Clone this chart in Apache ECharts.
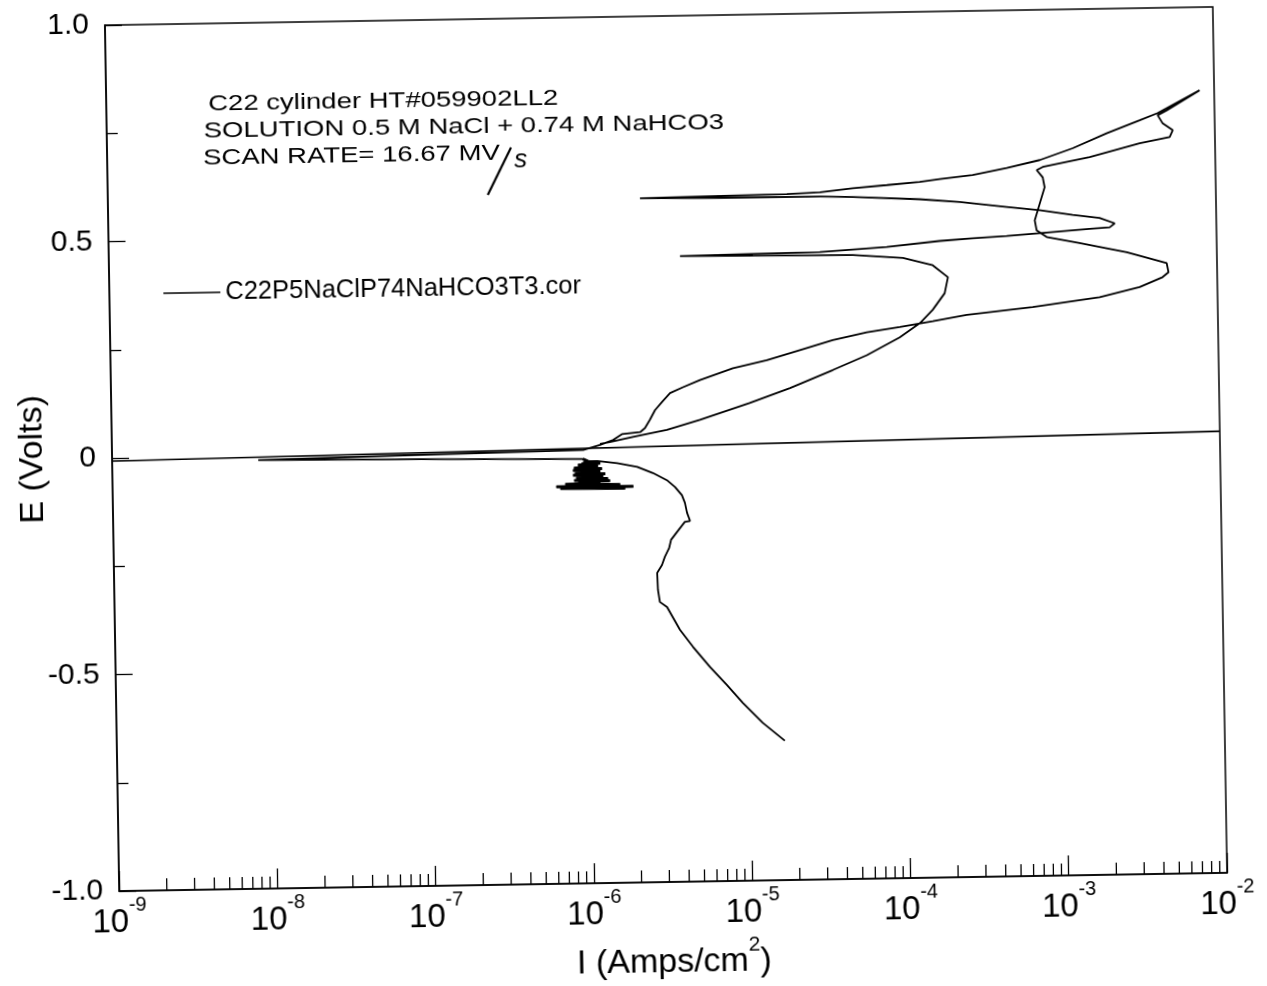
<!DOCTYPE html>
<html><head><meta charset="utf-8">
<script src="https://cdn.jsdelivr.net/npm/echarts@6/dist/echarts.min.js"></script>
<style>
html,body{margin:0;padding:0;background:#fff;overflow:hidden;}
#chart{width:1267px;height:986px;transform-origin:666px 449px;transform:rotate(-0.945deg);}
</style></head><body><div id="chart"></div>
<script>
const seriesName = 'C22P5NaClP74NaHCO3T3.cor';
const annotationLines = ['C22 cylinder HT#059902LL2', 'SOLUTION 0.5 M NaCl + 0.74 M NaHCO3', 'SCAN RATE= 16.67 MV'];
const yTickLabels = {'1': '1.0', '0.5': '0.5', '0': '0', '-0.5': '-0.5', '-1': '-1.0'};
const minorDecades = [1e-9, 1e-8, 1e-7, 1e-6, 1e-5, 1e-4, 1e-3];
const minorMultipliers = [2, 3, 4, 5, 6, 7, 8, 9];

// Cathodic branch (forward scan from -0.68 V)
const cathodicI = [1.66e-5,1.21e-5,9.10e-6,7.24e-6,5.69e-6,4.47e-6,3.71e-6,3.09e-6,2.79e-6,2.72e-6,2.70e-6,2.90e-6,3.03e-6,3.23e-6,3.33e-6,3.64e-6,4.09e-6,4.41e-6,4.23e-6,4.11e-6,3.94e-6,3.57e-6,3.18e-6,2.60e-6,2.07e-6,1.55e-6,1.16e-6];
const cathodicE = [-0.678,-0.636,-0.589,-0.547,-0.505,-0.458,-0.418,-0.365,-0.353,-0.325,-0.286,-0.268,-0.249,-0.229,-0.210,-0.192,-0.169,-0.167,-0.148,-0.125,-0.107,-0.088,-0.072,-0.055,-0.040,-0.031,-0.025];
// Noisy region near the corrosion potential
const noiseI = [9.69e-7,1.21e-6,8.76e-7,1.17e-6,8.26e-7,1.24e-6,8.14e-7,1.21e-6,8.38e-7,1.30e-6,8.14e-7,1.26e-6,8.51e-7,1.35e-6,8.26e-7,1.39e-6,8.76e-7,1.21e-6,7.25e-7,1.61e-6,6.36e-7,1.95e-6,6.74e-7,1.73e-6,9.02e-7,1.50e-6,9.42e-7,1.17e-6,9.02e-7,1.07e-6,9.15e-7,1.04e-6,9.28e-7,1.01e-6,9.42e-7];
const noiseE = [-0.025,-0.030,-0.034,-0.036,-0.041,-0.043,-0.046,-0.048,-0.053,-0.055,-0.057,-0.059,-0.064,-0.066,-0.069,-0.071,-0.073,-0.076,-0.078,-0.080,-0.083,-0.085,-0.087,-0.089,-0.087,-0.085,-0.080,-0.078,-0.069,-0.059,-0.050,-0.041,-0.032,-0.025,-0.020];
// Current minimum at corrosion potential
const dipI = [8.83e-8,8.38e-9,8.85e-8,9.48e-7];
const dipE = [-0.014,-0.010,-0.004,0.001];
// Anodic forward scan up to vertex
const forwardI = [1.21e-6,1.47e-6,1.67e-6,2.18e-6,2.34e-6,2.52e-6,2.72e-6,3.02e-6,3.40e-6,4.11e-6,5.27e-6,8.53e-6,1.40e-5,2.27e-5,3.67e-5,6.04e-5,9.77e-5,1.58e-4,2.59e-4,6.78e-4,1.80e-3,3.23e-3,4.52e-3,4.93e-3,4.81e-3,2.70e-3,1.36e-3,8.45e-4,7.31e-4,7.13e-4,7.71e-4,8.30e-4,8.09e-4,7.43e-4,8.11e-4,1.61e-3,3.34e-3,5.18e-3,5.42e-3,4.69e-3,4.37e-3,4.99e-3,8.09e-3];
const forwardE = [0.012,0.023,0.036,0.040,0.049,0.068,0.090,0.109,0.129,0.142,0.158,0.184,0.201,0.223,0.245,0.262,0.273,0.285,0.298,0.314,0.334,0.356,0.378,0.389,0.410,0.437,0.460,0.475,0.491,0.514,0.553,0.590,0.613,0.630,0.637,0.658,0.688,0.701,0.717,0.733,0.752,0.763,0.808];
// Reverse scan
const reverseI = [4.37e-3,3.36e-3,2.07e-3,1.26e-3,7.78e-4,4.81e-4,2.92e-4,1.81e-4,1.35e-4,8.38e-5,5.09e-5,3.16e-5,1.95e-5,7.36e-6,2.30e-6,7.36e-6,3.16e-5,5.09e-5,1.35e-4,2.41e-4,4.76e-4,7.67e-4,1.24e-3,1.83e-3,2.28e-3,2.12e-3,1.58e-3,7.64e-4,4.73e-4,2.88e-4,1.78e-4,8.24e-5,3.11e-5,1.17e-5,4.06e-6,1.17e-5,5.02e-5,1.04e-4,1.60e-4,1.99e-4,1.89e-4,1.58e-4,1.31e-4,9.73e-5,6.01e-5,3.65e-5,1.95e-5,1.08e-5,5.22e-6,3.22e-6,1.96e-6,1.40e-6,1.21e-6];
const reverseE = [0.757,0.741,0.712,0.679,0.653,0.636,0.621,0.613,0.607,0.601,0.595,0.587,0.584,0.582,0.580,0.578,0.577,0.575,0.567,0.559,0.546,0.537,0.525,0.517,0.504,0.495,0.492,0.484,0.479,0.475,0.470,0.458,0.449,0.447,0.445,0.443,0.441,0.432,0.414,0.386,0.349,0.311,0.281,0.249,0.209,0.176,0.136,0.103,0.066,0.044,0.029,0.018,0.014];
// Straight trace across the plot
const baselineI = [1e-9, 1e-2];
const baselineE = [-0.007, 0.020];

const pair = (xs, ys) => xs.map((x, i) => [x, ys[i]]);
const mainData = [].concat(pair(cathodicI, cathodicE), pair(noiseI, noiseE), pair(dipI, dipE), pair(forwardI, forwardE), pair(reverseI, reverseE));
const noiseData = pair(noiseI, noiseE);
const baselineData = pair(baselineI, baselineE);
const minorTickValues = [];
minorDecades.forEach(d => minorMultipliers.forEach(m => minorTickValues.push(m * d)));

const FONT = '"Liberation Sans", Arial, sans-serif';
const chart = echarts.init(document.getElementById('chart'), null, {renderer: 'canvas'});
const annStyle = {fill: '#000', fontFamily: FONT, fontSize: 22};
const black = '#000';

chart.setOption({
  animation: false,
  backgroundColor: '#fff',
  grid: {left: 112, right: 47, top: 16, bottom: 104, containLabel: false, outerBoundsMode: 'none',
         show: true, borderColor: black, borderWidth: 1.5, backgroundColor: 'transparent'},
  legend: {
    data: [seriesName], left: 166, top: 272, icon: 'rect', itemWidth: 57, itemHeight: 1.6, padding: 0,
    textStyle: {fontFamily: FONT, fontSize: 25.5, color: black}
  },
  xAxis: {
    type: 'log', logBase: 10, min: 1e-9, max: 1e-2, interval: 1, splitNumber: 7,
    axisLine: {show: true, onZero: false, lineStyle: {color: black, width: 1.5}},
    axisTick: {show: true, inside: true, length: 20, lineStyle: {color: black, width: 1.3}},
    splitLine: {show: false},
    axisLabel: {
      margin: 4, color: black,
      formatter: v => '{b|10}{e|' + Math.round(Math.log10(v)) + '}',
      rich: {
        b: {fontFamily: FONT, fontSize: 33, lineHeight: 44, verticalAlign: 'bottom', color: black},
        e: {fontFamily: FONT, fontSize: 20, lineHeight: 20, verticalAlign: 'top', color: black}
      }
    },
    name: '{t|I (Amps/cm}{s|2}{t|)}', nameLocation: 'middle', nameGap: 54,
    nameTextStyle: {rich: {
      t: {fontFamily: FONT, fontSize: 34, lineHeight: 44, verticalAlign: 'bottom', color: black},
      s: {fontFamily: FONT, fontSize: 21, lineHeight: 21, verticalAlign: 'top', color: black}
    }}
  },
  yAxis: {
    type: 'value', min: -1, max: 1, interval: 0.5,
    axisLine: {show: true, onZero: false, lineStyle: {color: black, width: 1.5}},
    axisTick: {show: true, inside: true, length: 17, lineStyle: {color: black, width: 1.3}},
    minorTick: {show: true, splitNumber: 2, length: 11, lineStyle: {color: black, width: 1.3}},
    splitLine: {show: false},
    axisLabel: {margin: 16, color: black, fontFamily: FONT, fontSize: 30, formatter: v => yTickLabels[String(v)] ?? String(v)},
    name: 'E (Volts)', nameLocation: 'middle', nameGap: 62, nameRotate: 90, nameMoveOverlap: false,
    nameTextStyle: {fontFamily: FONT, fontSize: 34, color: black}
  },
  graphic: [
    {type: 'text', x: 214, y: 86, scaleX: 1.25, style: Object.assign({text: annotationLines[0]}, annStyle)},
    {type: 'text', x: 209, y: 113, scaleX: 1.25, style: Object.assign({text: annotationLines[1]}, annStyle)},
    {type: 'text', x: 208, y: 140, scaleX: 1.25, style: Object.assign({text: annotationLines[2]}, annStyle)},
    {type: 'line', shape: {x1: 492, y1: 192, x2: 516, y2: 145}, style: {stroke: black, lineWidth: 2.2}},
    {type: 'text', x: 519, y: 145, style: {text: 's', fill: black, fontFamily: FONT, fontSize: 26, fontStyle: 'italic'}}
  ],
  series: [
    {name: seriesName, type: 'line', data: mainData, showSymbol: false, symbol: 'none',
     lineStyle: {color: black, width: 1.8}, itemStyle: {color: black}, z: 5},
    {name: seriesName, type: 'line', data: noiseData, showSymbol: false, symbol: 'none',
     lineStyle: {color: black, width: 3}, itemStyle: {color: black}, z: 5},
    {name: seriesName, type: 'line', data: baselineData, showSymbol: false, symbol: 'none',
     lineStyle: {color: black, width: 1.6}, itemStyle: {color: black}, z: 4},
    {type: 'custom', silent: true, clip: false, z: 6,
     data: minorTickValues.map(v => [v, -1]),
     renderItem: (params, api) => {
       const p = api.coord([api.value(0), api.value(1)]);
       return {type: 'line', shape: {x1: p[0], y1: p[1], x2: p[0], y2: p[1] - 12}, style: {stroke: black, lineWidth: 1.3}};
     }}
  ]
});
</script></body></html>
